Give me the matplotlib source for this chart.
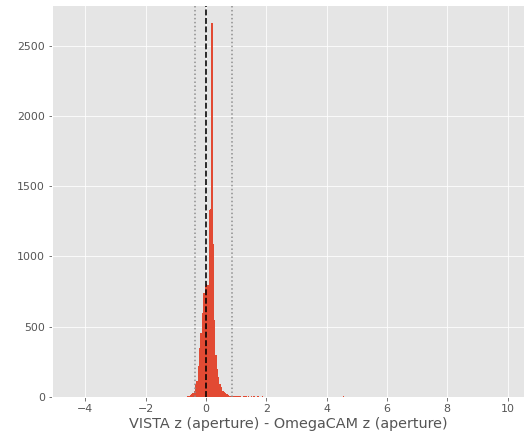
import numpy as np
import matplotlib
matplotlib.use("Agg")
import matplotlib.pyplot as plt

plt.style.use("ggplot")

# Histogram data: bin left edges (width 0.045) and counts
bin_width = 0.045
main_start = -0.63
main_counts = [5, 10, 15, 20, 30, 45, 90, 110, 220, 350, 455, 600, 740, 790,
               800, 795, 1330, 1335, 2660, 1085, 550, 300, 200, 145, 90, 70,
               45, 35, 25, 18, 12, 10, 8, 6,
               8, 5, 6, 3, 7, 4, 2, 5, 3, 6, 2, 4, 1, 3, 2, 5, 1, 2, 3, 1,
               2, 4]
outlier_values = [4.55, -4.38, 9.8]
outlier_counts = [5, 1, 1]

vline_center = 0.0
vline_low = -0.35
vline_high = 0.88
xlabel = "VISTA z (aperture) - OmegaCAM z (aperture)"

edges = np.arange(-4.41, 9.9, bin_width)
main_centers = main_start + bin_width * (np.arange(len(main_counts)) + 0.5)
values = np.concatenate([main_centers, outlier_values])
weights = np.concatenate([main_counts, outlier_counts])

DPI = 72
fig = plt.figure(figsize=(531 / DPI, 442 / DPI), dpi=DPI)
ax = fig.add_axes([0.098, 0.102, 0.889, 0.887])
ax.hist(values, bins=edges, weights=weights, color="#E24A33")
ax.axvline(vline_center, color="black", linestyle="--", linewidth=1.6)
ax.axvline(vline_low, color="#8c8c8c", linestyle=":", linewidth=1.5)
ax.axvline(vline_high, color="#8c8c8c", linestyle=":", linewidth=1.5)
ax.set_xlim(-5.1, 10.55)
ax.set_ylim(0, 2790)
ax.set_xticks([-4, -2, 0, 2, 4, 6, 8, 10])
ax.set_yticks([0, 500, 1000, 1500, 2000, 2500])
ax.tick_params(labelsize=11)
ax.set_xlabel(xlabel, fontsize=14.4, labelpad=3)
fig.savefig("out.png", dpi=DPI)
